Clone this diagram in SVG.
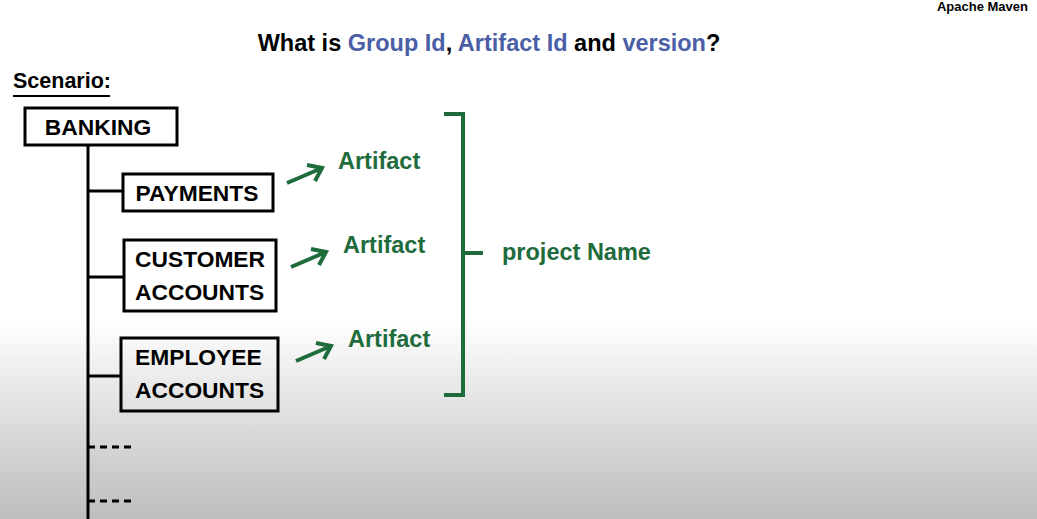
<svg xmlns="http://www.w3.org/2000/svg" width="1037" height="519" viewBox="0 0 1037 519">
<defs>
<linearGradient id="bg" x1="0" y1="0" x2="0" y2="519" gradientUnits="userSpaceOnUse">
<stop offset="0" stop-color="#ffffff"/>
<stop offset="0.62" stop-color="#ffffff"/>
<stop offset="0.7" stop-color="#f0f0f0"/>
<stop offset="1" stop-color="#bdbdbd"/>
</linearGradient>
<style>
.t{font-family:"Liberation Sans",Arial,sans-serif;font-weight:bold}
.box{fill:none;stroke:#000;stroke-width:3}
.bt{font-family:"Liberation Sans",Arial,sans-serif;font-weight:bold;font-size:22.8px;fill:#000}
.ln{stroke:#000;stroke-width:3;fill:none}
.g{fill:#1e6b3c}
.gl{stroke:#1e6b3c;stroke-width:4;fill:none;stroke-linecap:butt}
.blue{fill:#4a5fa5}
</style>
</defs>
<rect x="0" y="0" width="1037" height="519" fill="url(#bg)"/>
<text class="t" x="1028" y="11" font-size="13" text-anchor="end" fill="#000">Apache Maven</text>
<text class="t" x="489" y="51" font-size="23.5" text-anchor="middle" fill="#000">What is <tspan class="blue">Group Id</tspan>, <tspan class="blue">Artifact Id</tspan> and <tspan class="blue">version</tspan>?</text>
<g id="scenario">
<text class="t" x="13" y="88" font-size="21.5" fill="#000">Scenario:</text>
<line x1="13" y1="96" x2="110" y2="96" stroke="#000" stroke-width="2"/>
</g>
<g id="connectors">
<line class="ln" x1="88" y1="145" x2="88" y2="519"/>
<line class="ln" x1="88" y1="191" x2="123" y2="191"/>
<line class="ln" x1="88" y1="277" x2="124" y2="277"/>
<line class="ln" x1="88" y1="376" x2="121" y2="376"/>
<line class="ln" x1="88" y1="447" x2="132" y2="447" stroke-dasharray="7,5"/>
<line class="ln" x1="88" y1="501" x2="132" y2="501" stroke-dasharray="7,5"/>
<path class="gl" d="M287 183 L322 168 M307 165 L322 168 L315 181"/>
<path class="gl" d="M291 267 L326 252 M311 249 L326 252 L319 265"/>
<path class="gl" d="M296 361 L331 346 M316 343 L331 346 L324 359"/>
</g>
<g id="banking">
<rect class="box" x="25" y="108" width="152" height="37"/>
<text class="bt" x="98" y="135" text-anchor="middle">BANKING</text>
</g>
<g id="payments">
<rect class="box" x="123" y="174" width="150" height="37"/>
<text class="bt" x="197" y="201" text-anchor="middle">PAYMENTS</text>
</g>
<g id="customer-accounts">
<rect class="box" x="124" y="240" width="152" height="71"/>
<text class="bt" x="135" y="267">CUSTOMER</text>
<text class="bt" x="135" y="300">ACCOUNTS</text>
</g>
<g id="employee-accounts">
<rect class="box" x="121" y="338" width="157" height="73"/>
<text class="bt" x="135" y="365">EMPLOYEE</text>
<text class="bt" x="135" y="398">ACCOUNTS</text>
</g>
<g id="artifacts">
<text class="t g" x="338" y="169" font-size="23.5">Artifact</text>
<text class="t g" x="343" y="253" font-size="23.5">Artifact</text>
<text class="t g" x="348" y="347" font-size="23.5">Artifact</text>
</g>
<g id="project-name">
<path class="gl" d="M444 114 L463 114 L463 395 L444 395" stroke-width="3"/>
<line class="gl" x1="463" y1="253" x2="483" y2="253" stroke-width="3"/>
<text class="t g" x="502" y="260" font-size="23.5">project Name</text>
</g>
</svg>
